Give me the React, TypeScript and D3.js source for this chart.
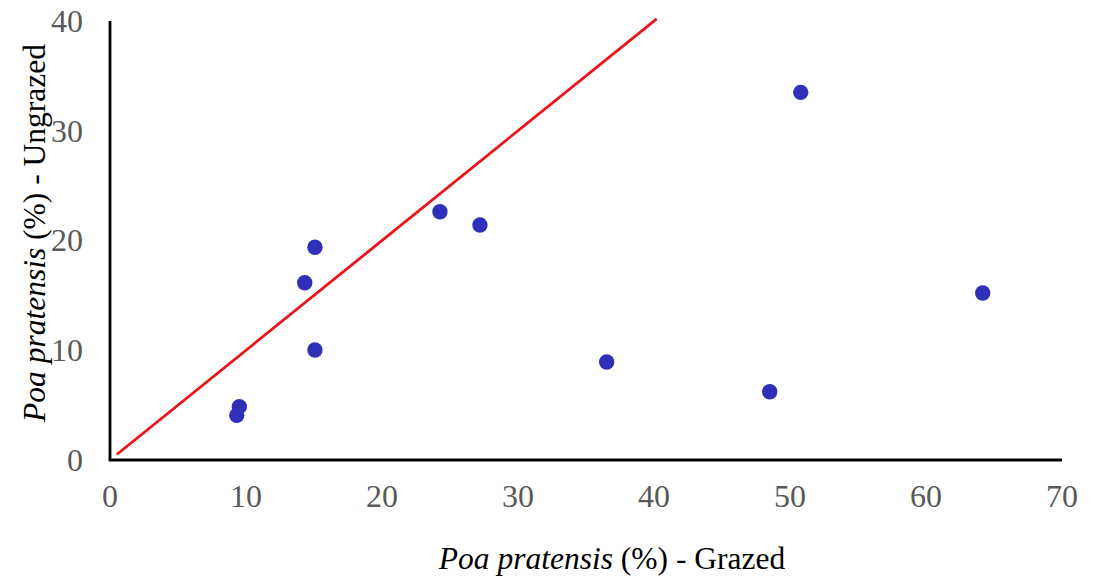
import React from "react";
import * as d3 from "d3";

const grazed = [24.26, 27.2, 15.07, 14.32, 15.07, 9.51, 9.32, 50.79, 64.17, 36.52, 48.51];
const ungrazed = [22.62, 21.41, 19.38, 16.15, 10.02, 4.86, 4.07, 33.5, 15.22, 8.93, 6.22];
const xTicks = [0, 10, 20, 30, 40, 50, 60, 70];
const yTicks = [0, 10, 20, 30, 40];
const refLine = [[0.5, 0.5], [40.2, 40.2]];

export default function App() {
  const W = 1096, H = 578;
  const x = d3.scaleLinear().domain([0, 70]).range([110, 1062]);
  const y = d3.scaleLinear().domain([0, 40]).range([460, 21]);
  const line = d3.line<number[]>().x((d) => x(d[0])).y((d) => y(d[1]));
  const font = "Liberation Serif";
  return (
    <svg width={W} height={H} style={{ position: "absolute", left: 0, top: 0, background: "#fff" }}>
      <rect width={W} height={H} fill="#fff" />
      <path d={line(refLine as any) || ""} stroke="#E8141A" strokeWidth={2.8} fill="none" />
      <line x1={x(0)} x2={x(0)} y1={y(40)} y2={y(0)} stroke="#000" strokeWidth={2.8} />
      <line x1={x(0) - 1.4} x2={x(70)} y1={y(0)} y2={y(0)} stroke="#000" strokeWidth={2.8} />
      {xTicks.map((t) => (
        <text key={"x" + t} x={x(t)} y={507} textAnchor="middle" style={{ fontFamily: font }} fontSize={32} fill="#595959">
          {t}
        </text>
      ))}
      {yTicks.map((t) => (
        <text key={"y" + t} x={83} y={y(t)} dy="0.34em" textAnchor="end" style={{ fontFamily: font }} fontSize={32} fill="#595959">
          {t}
        </text>
      ))}
      {grazed.map((g, i) => (
        <circle key={i} cx={x(g)} cy={y(ungrazed[i])} r={7.7} fill="#2F2FB9" />
      ))}
      <text x={612} y={569} textAnchor="middle" style={{ fontFamily: font }} fontSize={31.5} fill="#000">
        <tspan fontStyle="italic">Poa pratensis</tspan>
        <tspan> (%) - Grazed</tspan>
      </text>
      <text transform={`translate(45, ${233}) rotate(-90)`} textAnchor="middle" style={{ fontFamily: font }} fontSize={31.5} fill="#000">
        <tspan fontStyle="italic">Poa pratensis</tspan>
        <tspan> (%) - Ungrazed</tspan>
      </text>
    </svg>
  );
}
